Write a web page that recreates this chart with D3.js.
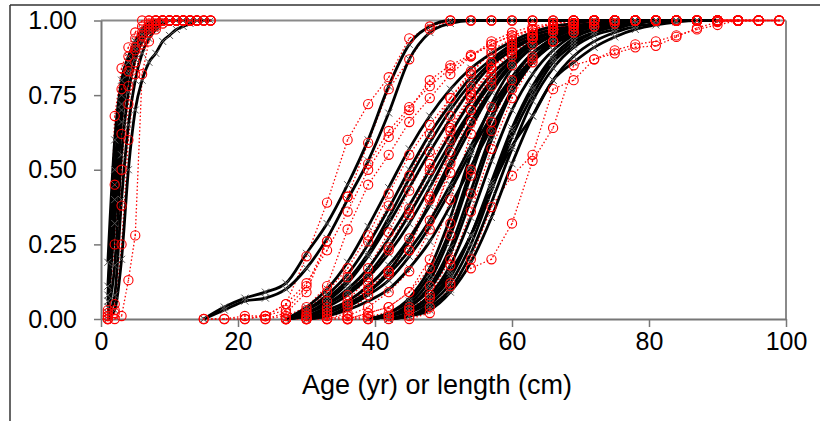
<!DOCTYPE html>
<html><head><meta charset="utf-8">
<script src="https://cdn.jsdelivr.net/npm/d3@7"></script>
<style>
body{margin:0;background:#fff}
text{font-family:Arial,"Liberation Sans",sans-serif}
</style>
</head><body>
<svg id="c" width="820" height="421"></svg>
<script>
// ---------- DATA ----------
const xTicks = [0, 20, 40, 60, 80, 100];
const yTicks = [0, 0.25, 0.5, 0.75, 1];
const xTitle = "Age (yr) or length (cm)";

const ageBins = [1,2,3,4,5,6,7,8,9,10,11,12,13,14,15,16];
const lengthBins = [15,18,21,24,27,30,33,36,39,42,45,48,51,54,57,60,63,66,69,72,75,78,81,84,87,90,93,96,99];

// fitted (black) age ogives, starting at age 1
const ageFit = [
  [.19,.60,.80,.88,.93,.96,.98,.99,1,1,1,1,1,1,1],
  [.11,.50,.75,.86,.92,.95,.97,.99,1,1,1,1,1,1,1],
  [.04,.32,.66,.82,.90,.95,.97,.99,1,1,1,1,1,1],
  [.02,.18,.55,.76,.87,.93,.96,.98,.99,1,1,1,1,1],
  [.01,.08,.40,.65,.80,.89,.94,.97,.99,1,1,1,1],
  [0,.03,.20,.50,.70,.80,.86,.89,.93,.95,.97,.98,.99,1,1],
  [.06,.40,.72,.86,.93,.97,.99,1,1,1,1,1],
  [.08,.45,.70,.83,.91,.95,.98,.99,1,1,1,1,1,1,1,1]
];
// observed (red) age proportions, starting at age 1
const ageObs = [
  [.03,.68,.84,.91,.96,1,1,1,1,1,1,1,1,1,1,1],
  [.02,.45,.77,.88,.94,.98,1,1,1,1,1,1,1,1],
  [.01,.25,.62,.83,.91,.96,.99,1,1,1,1,1,1,1],
  [0,.05,.50,.78,.90,.95,.98,1,1,1,1,1,1,1,1,1],
  [0,0,.01,.13,.28,.82,.93,.97,.99,1,1,1,1,1,1,1],
  [.01,.03,.38,.72,.86,.93,.97,.99,1,1,1,1],
  [0,.02,.25,.60,.82,.92,.96,.98,1,1,1,1,1]
];

// fitted (black) length ogives: first length class and values
const lengthFitStart = [15,15,27,27,27,27,27,27,27,30,39,39,39,39,42,42,42,39,27,27,30,30,39,42,39,42];
const lengthFit = [
  [0,.04,.07,.09,.12,.22,.32,.45,.60,.78,.92,.98,1,1,1,1,1,1,1,1,1,1,1,1,1,1],
  [0,.03,.06,.07,.10,.17,.27,.40,.53,.69,.87,.96,.99,1,1,1,1,1,1,1,1,1,1,1,1,1],
  [0,.04,.10,.19,.31,.44,.57,.68,.77,.84,.89,.93,.96,.98,.99,1,1,1,1,1,1,1],
  [0,.03,.08,.15,.25,.37,.50,.62,.72,.81,.87,.92,.95,.97,.98,.99,1,1,1,1,1,1],
  [0,.02,.06,.12,.21,.32,.44,.56,.67,.77,.85,.90,.94,.96,.98,.99,1,1,1,1,1,1],
  [0,.02,.05,.10,.17,.27,.38,.50,.62,.73,.82,.88,.93,.96,.98,.99,1,1,1,1,1,1],
  [0,.01,.04,.08,.14,.22,.32,.44,.57,.69,.79,.87,.92,.95,.97,.99,1,1,1,1,1,1],
  [0,.01,.03,.06,.11,.18,.27,.38,.51,.64,.76,.85,.91,.95,.97,.98,.99,1,1,1,1,1],
  [0,.01,.02,.05,.09,.15,.23,.33,.45,.58,.71,.81,.89,.93,.96,.98,.99,1,1,1,1,1],
  [0,.01,.03,.06,.10,.17,.26,.38,.51,.64,.76,.86,.92,.95,.97,.99,1,1,1,1,1],
  [0,.02,.07,.17,.34,.55,.72,.84,.91,.95,.97,.98,.99,1,1,1,1,1],
  [0,.01,.05,.13,.28,.48,.67,.80,.89,.94,.97,.98,.99,1,1,1,1,1],
  [0,.01,.04,.10,.22,.40,.60,.76,.86,.92,.96,.98,.99,1,1,1,1,1],
  [0,.01,.03,.08,.18,.34,.53,.70,.82,.90,.95,.97,.99,1,1,1,1,1],
  [0,.02,.06,.14,.28,.46,.64,.78,.88,.94,.97,.98,.99,1,1,1,1],
  [0,.01,.04,.10,.22,.39,.57,.73,.84,.91,.95,.97,.99,1,1,1,1],
  [0,.02,.08,.16,.28,.44,.58,.68,.80,.86,.91,.945,.97,.985,.995,1,1],
  [0,.01,.03,.07,.15,.28,.45,.63,.77,.87,.93,.96,.98,.99,1,1,1,1],
  [0,.03,.07,.13,.22,.34,.47,.59,.70,.79,.86,.91,.94,.96,.98,.99,1,1,1,1,1,1],
  [0,.02,.05,.09,.15,.24,.35,.47,.59,.70,.80,.87,.92,.95,.97,.98,.99,1,1,1,1,1],
  [0,.02,.05,.09,.16,.26,.39,.53,.66,.77,.86,.92,.95,.97,.99,1,1,1,1,1,1],
  [0,.01,.04,.08,.13,.21,.31,.43,.56,.68,.79,.87,.92,.96,.98,.99,1,1,1,1,1],
  [0,.02,.06,.15,.30,.50,.68,.81,.89,.94,.97,.98,.99,1,1,1,1,1],
  [0,.01,.05,.12,.25,.43,.61,.75,.86,.92,.96,.98,.99,1,1,1,1],
  [0,.01,.04,.11,.24,.43,.62,.77,.87,.93,.96,.98,.99,1,1,1,1,1],
  [0,.01,.03,.09,.19,.34,.52,.68,.80,.88,.93,.96,.98,.99,1,1,1]
];

// observed (red) length proportions: first length class and values
const lengthObsStart = [15,15,21,24,24,27,27,27,27,27,30,30,33,33,36,36,39,45,42,30,36];
const lengthObs = [
  [0,0,0,.01,.05,.21,.39,.60,.72,.81,.94,.98,1,1,1,1,1,1,1,1,1,1,1,1,1,1,1,1,1],
  [0,0,.01,.01,.03,.11,.26,.41,.59,.77,.87,.97,1,1,1,1,1,1,1,1,1,1,1,1,1,1,1],
  [0,.01,.05,.12,.23,.36,.50,.61,.70,.80,.85,.885,.92,.95,.97,.99,1,1,1,1,1,1,1,1,1,1,1],
  [0,.02,.09,.26,.41,.52,.63,.71,.78,.84,.88,.92,.95,.97,.99,1,1,1,1,1,1,1,1,1],
  [0,.01,.04,.11,.30,.45,.55,.66,.74,.82,.88,.93,.96,.98,.99,1,1,1,1,1,1,1,1,1,1,1],
  [0,.03,.09,.17,.28,.42,.55,.65,.74,.82,.90,.94,.97,.98,1,1,1,1,1,1,1,1],
  [0,.02,.06,.14,.26,.38,.48,.62,.74,.83,.89,.93,.96,.98,.99,1,1,1,1,1,1,1,1],
  [0,.01,.04,.08,.17,.29,.43,.56,.68,.78,.86,.92,.95,.97,.99,1,1,1,1,1,1,1,1,1,1],
  [0,.01,.03,.06,.14,.23,.35,.50,.63,.74,.84,.91,.95,.97,.98,1,1,1,1,1,1,1],
  [0,0,.02,.05,.10,.16,.27,.41,.56,.70,.82,.90,.94,.97,.99,1,1,1,1,1,1,1,1,1],
  [0,.01,.04,.10,.15,.23,.40,.60,.76,.86,.92,.95,.97,.99,1,1,1,1,1,1,1,1],
  [0,0,.02,.08,.16,.23,.33,.49,.66,.80,.89,.94,.97,.99,1,1,1,1,1,1,1],
  [0,.01,.04,.09,.16,.30,.52,.70,.84,.91,.95,.98,.99,1,1,1,1,1,1,1,1,1],
  [0,0,.02,.04,.09,.20,.40,.62,.78,.88,.94,.97,.99,1,1,1,1,1,1,1],
  [0,.01,.02,.04,.11,.28,.50,.71,.85,.92,.96,.98,1,1,1,1,1,1,1,1],
  [0,0,.01,.03,.07,.18,.36,.57,.74,.86,.93,.96,.98,1,1,1,1,1,1],
  [0,.01,.03,.08,.20,.42,.63,.77,.87,.93,.96,.98,.99,1,1,1,1,1],
  [0,.02,.11,.17,.20,.32,.53,.64,.85,.87,.89,.91,.915,.945,.975,.995,1,1,1],
  [0,.01,.04,.12,.20,.375,.48,.55,.77,.80,.87,.90,.92,.93,.95,.97,.985,1,1],
  [0,.02,.05,.12,.24,.37,.52,.64,.75,.84,.90,.95,.97,.99,1,1,1,1,1,1,1,1,1],
  [0,.02,.04,.09,.17,.32,.48,.66,.80,.88,.93,.97,.99,1,1,1,1,1,1,1,1]
];

// ---------- CHART ----------
const svg = d3.select('#c');
const x = d3.scaleLinear().domain([0, 100]).range([101, 786]);
const y = d3.scaleLinear().domain([0, 1]).range([319, 20.5]);

// outer frame
svg.append('line').attr('x1', 10).attr('x2', 820).attr('y1', 5).attr('y2', 5)
  .attr('stroke', '#333').attr('stroke-width', 1.5);
svg.append('line').attr('x1', 10).attr('x2', 10).attr('y1', 5).attr('y2', 421)
  .attr('stroke', '#333').attr('stroke-width', 1.5);

// plot area border (top/right)
svg.append('line').attr('x1', x(0)).attr('x2', x(100)).attr('y1', y(1)).attr('y2', y(1))
  .attr('stroke', '#8a8a8a').attr('stroke-width', 2);
svg.append('line').attr('x1', x(100)).attr('x2', x(100)).attr('y1', y(1)).attr('y2', y(0))
  .attr('stroke', '#8a8a8a').attr('stroke-width', 2);

// axes
const gx = svg.append('g').attr('transform', `translate(0,${y(0)})`)
  .call(d3.axisBottom(x).tickValues(xTicks).tickFormat(d3.format('d')).tickSize(8).tickSizeOuter(0).tickPadding(5));
const gy = svg.append('g').attr('transform', `translate(${x(0)},0)`)
  .call(d3.axisLeft(y).tickValues(yTicks).tickFormat(d3.format('.2f')).tickSize(7).tickSizeOuter(0).tickPadding(17));
[gx, gy].forEach(g => {
  g.select('.domain').attr('stroke', '#777').attr('stroke-width', 2);
  g.selectAll('.tick line').attr('stroke', '#777').attr('stroke-width', 1.5);
  g.selectAll('.tick text').attr('fill', '#000').style('font-size', '25px')
    .style('font-family', 'Arial, "Liberation Sans", sans-serif');
});

svg.append('text').attr('x', 437).attr('y', 394).attr('text-anchor', 'middle')
  .style('font-size', '27px').attr('fill', '#000').text(xTitle);

// build series
function build(bins, starts, sets) {
  return sets.map((vals, i) => {
    const s = bins.indexOf(starts[i]);
    return vals.map((v, j) => [bins[s + j], v]).filter(p => p[0] !== undefined);
  });
}
const fitSeries = build(ageBins, ageFit.map(() => 1), ageFit).concat(build(lengthBins, lengthFitStart, lengthFit));
const obsSeries = build(ageBins, ageObs.map(() => 1), ageObs).concat(build(lengthBins, lengthObsStart, lengthObs));

const redLine = d3.line().x(d => x(d[0])).y(d => y(d[1]));
const blackLine = d3.line().curve(d3.curveMonotoneX).x(d => x(d[0])).y(d => y(d[1]));

// red observed lines
svg.append('g').selectAll('path').data(obsSeries).join('path')
  .attr('d', redLine).attr('fill', 'none').attr('stroke', '#ff0000')
  .attr('stroke-width', 1.3).attr('stroke-dasharray', '1.5,2.2');

// black fitted lines
svg.append('g').selectAll('path').data(fitSeries).join('path')
  .attr('d', blackLine).attr('fill', 'none').attr('stroke', '#000')
  .attr('stroke-width', 2.8).attr('stroke-linejoin', 'round');

// black x markers
svg.append('g').selectAll('path').data(fitSeries.flat()).join('path')
  .attr('transform', d => `translate(${x(d[0])},${y(d[1])})`)
  .attr('d', 'M-3.5,-3.5L3.5,3.5M-3.5,3.5L3.5,-3.5')
  .attr('stroke', '#555').attr('stroke-width', 1).attr('fill', 'none');

// red circle markers
const obsPts = obsSeries.flat();
svg.append('g').selectAll('circle').data(obsPts).join('circle')
  .attr('cx', d => x(d[0])).attr('cy', d => y(d[1])).attr('r', 4.6)
  .attr('fill', 'none').attr('stroke', '#ff0000').attr('stroke-width', 1.1);
svg.append('g').selectAll('circle').data(obsPts).join('circle')
  .attr('cx', d => x(d[0])).attr('cy', d => y(d[1])).attr('r', 0.8)
  .attr('fill', '#ff0000');
</script>
</body></html>
